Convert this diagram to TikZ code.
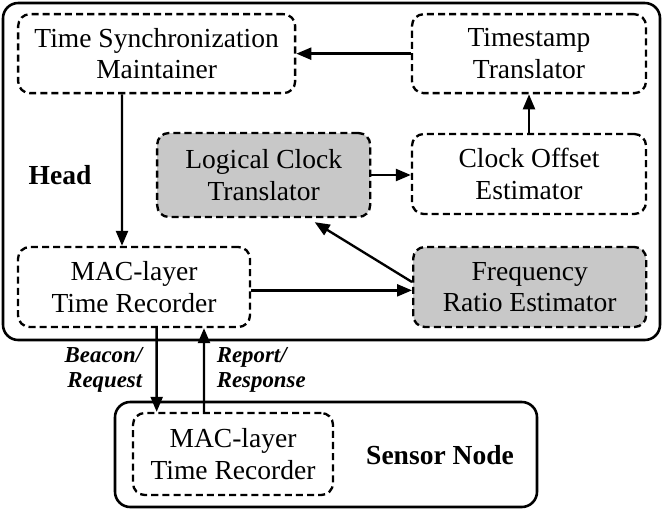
\documentclass[tikz,border=0pt]{standalone}
\usepackage{fontspec}
\setmainfont{Liberation Serif}
\usepackage{tikz}
\usetikzlibrary{shapes, arrows.meta, positioning, calc}
\definecolor{boxgray}{RGB}{200, 200, 200}

\begin{document}
\begin{tikzpicture}[
    unit/.style={draw, line width=2pt, dash pattern=on 6pt off 3.5pt, rounded corners=10pt, align=center, font=\fontsize{23.5}{27}\selectfont, inner sep=2pt},
    grayunit/.style={unit, fill=boxgray},
    frame/.style={draw, line width=2.2pt, rounded corners=13pt},
    link/.style={line width=2pt, -{Triangle[length=0.45cm, width=0.36cm]}},
    msg/.style={font=\fontsize{19.5}{21}\selectfont\bfseries\itshape, align=left, inner sep=0pt}
  ]
  \useasboundingbox (0,0) rectangle (19.92,-15.36);

  % head
  \draw[frame] (0.09,-0.09) rectangle (19.8,-10.2);
  \node[font=\fontsize{23.5}{27}\selectfont\bfseries] (head) at (1.8,-5.25) {Head};

  \node[unit, minimum width=8.31cm, minimum height=2.37cm] (tsm) at (4.70,-1.61) {Time Synchronization\\Maintainer};
  \node[unit, minimum width=7.02cm, minimum height=2.37cm] (tst) at (15.87,-1.61) {Timestamp\\Translator};
  \node[grayunit, minimum width=6.39cm, minimum height=2.52cm] (lct) at (7.91,-5.25) {Logical Clock\\Translator};
  \node[unit, minimum width=7.02cm, minimum height=2.4cm] (coe) at (15.87,-5.22) {Clock Offset\\Estimator};
  \node[unit, minimum width=6.96cm, minimum height=2.4cm] (mach) at (4.02,-8.61) {MAC-layer\\Time Recorder};
  \node[grayunit, minimum width=6.99cm, minimum height=2.4cm] (fre) at (15.89,-8.61) {Frequency\\Ratio Estimator};

  % sensor node
  \draw[frame] (3.45,-12.06) rectangle (16.11,-15.21);
  \node[unit, minimum width=6.0cm, minimum height=2.46cm] (macs) at (6.99,-13.62) {MAC-layer\\Time Recorder};
  \node[font=\fontsize{23.5}{27}\selectfont\bfseries] (sensor) at (13.2,-13.65) {Sensor Node};

  % links
  \draw[link] (tst.west) -- (tsm.east);
  \draw[link] ([xshift=-1.04cm]tsm.south) -- ([xshift=-0.36cm]mach.north);
  \draw[link] (coe.north) -- (tst.south);
  \draw[link] (lct.east) -- (lct.east -| coe.west);
  \draw[link] ([yshift=0.15cm]fre.west) -- ([xshift=-1.7cm, yshift=-0.12cm]lct.south east);
  \draw[link] ([yshift=-0.1cm]mach.east) -- ([yshift=-0.1cm]fre.west);
  \draw[link] ([xshift=0.68cm]mach.south) -- node[msg, left=0.4cm, align=right] {Beacon/\\Request} ([xshift=-2.29cm]macs.north);
  \draw[link] ([xshift=-0.87cm]macs.north) -- node[msg, right=0.35cm] {Report/\\Response} ([xshift=2.1cm]mach.south);
\end{tikzpicture}
\end{document}
